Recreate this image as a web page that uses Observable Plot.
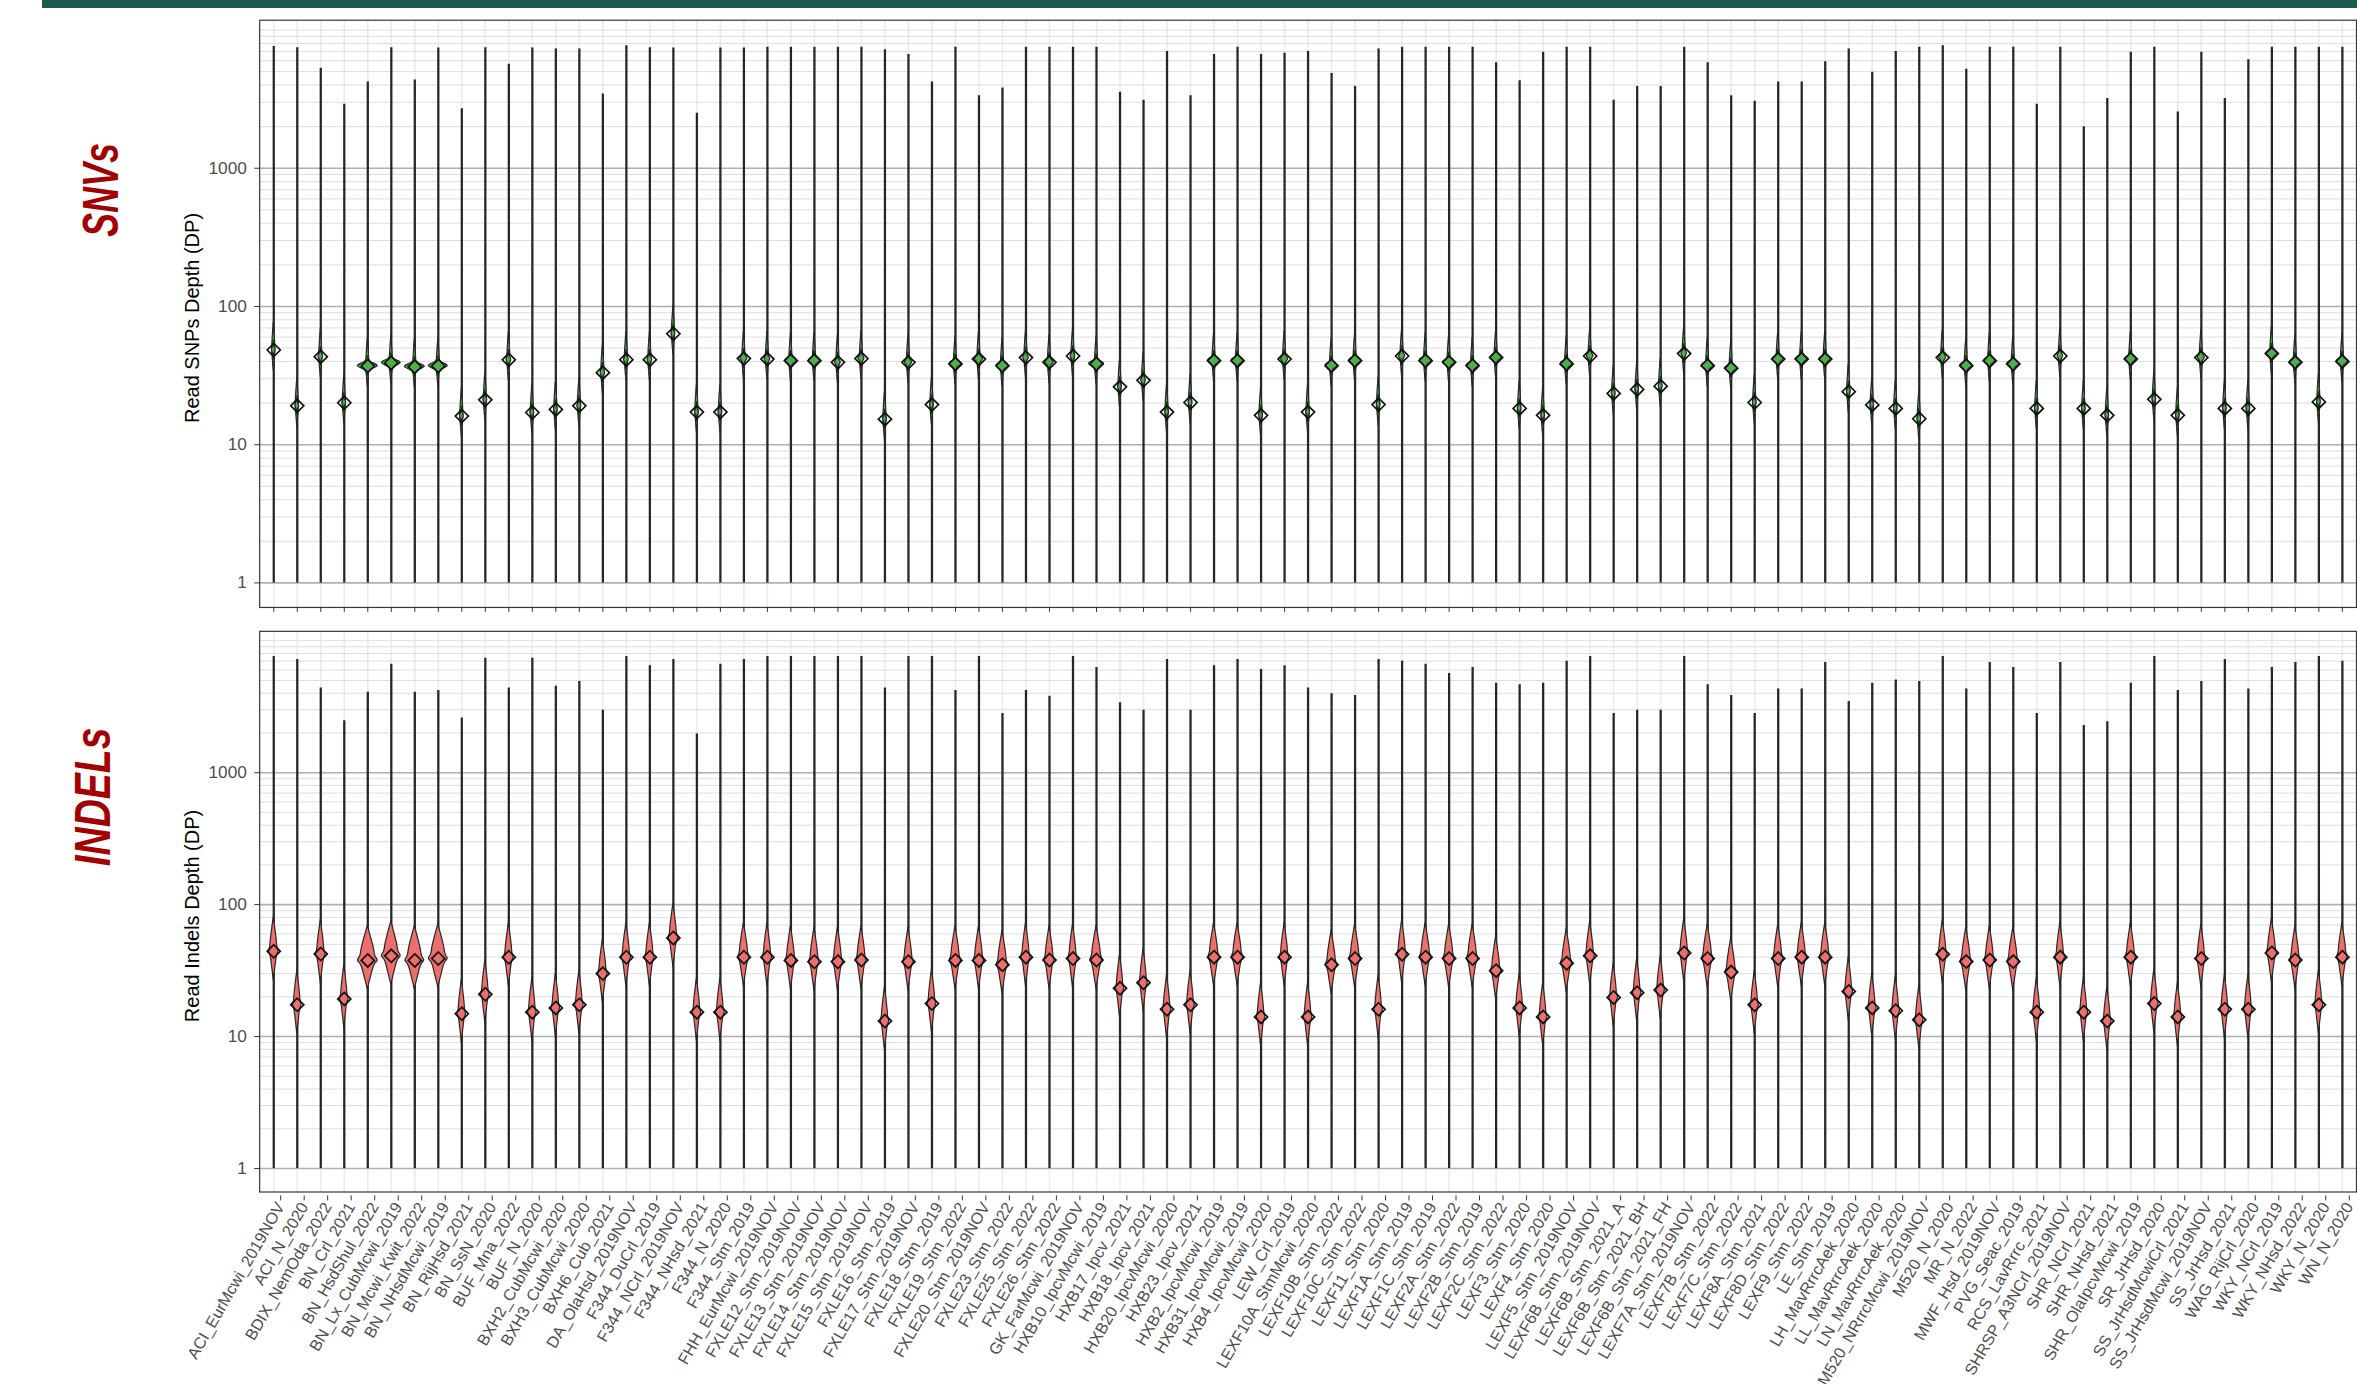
<!DOCTYPE html>
<html><head><meta charset="utf-8">
<script src="https://cdn.jsdelivr.net/npm/d3@7"></script>
<script src="https://cdn.jsdelivr.net/npm/@observablehq/plot@0.6"></script>
<style>
html,body{margin:0;padding:0;background:#fff;overflow:hidden;width:2357px;height:1384px;}
#root{position:relative;width:2357px;height:1384px;overflow:hidden;}
.bar{position:absolute;left:42px;top:0;width:2315px;height:8px;background:#1f5a4f;}
.svgwrap{position:absolute;left:0;}
.side{position:absolute;font-family:"Liberation Sans",Arial,sans-serif;font-weight:bold;font-style:italic;color:#a30000;font-size:50px;line-height:1;white-space:nowrap;}
.ytitle{position:absolute;font-family:"Liberation Sans",Arial,sans-serif;font-size:20px;line-height:1;color:#000;white-space:nowrap;}
</style></head>
<body><div id="root"><div class="bar"></div></div>
<script>
const strains = [
"ACI_EurMcwi_2019NOV","ACI_N_2020","BDIX_NemOda_2022","BN_Crl_2021","BN_HsdShul_2022","BN_Lx_CubMcwi_2019","BN_Mcwi_Kwit_2022","BN_NHsdMcwi_2019","BN_RijHsd_2021","BN_SsN_2020",
"BUF_Mna_2022","BUF_N_2020","BXH2_CubMcwi_2020","BXH3_CubMcwi_2020","BXH6_Cub_2021","DA_OlaHsd_2019NOV","F344_DuCrl_2019","F344_NCrl_2019NOV","F344_NHsd_2021","F344_N_2020",
"F344_Stm_2019","FHH_EurMcwi_2019NOV","FXLE12_Stm_2019NOV","FXLE13_Stm_2019NOV","FXLE14_Stm_2019NOV","FXLE15_Stm_2019NOV","FXLE16_Stm_2019","FXLE17_Stm_2019NOV","FXLE18_Stm_2019","FXLE19_Stm_2022",
"FXLE20_Stm_2019NOV","FXLE23_Stm_2022","FXLE25_Stm_2022","FXLE26_Stm_2022","GK_FarMcwi_2019NOV","HXB10_IpcvMcwi_2019","HXB17_Ipcv_2021","HXB18_Ipcv_2021","HXB20_IpcvMcwi_2020","HXB23_Ipcv_2021",
"HXB2_IpcvMcwi_2019","HXB31_IpcvMcwi_2019","HXB4_IpcvMcwi_2020","LEW_Crl_2019","LEXF10A_StmMcwi_2020","LEXF10B_Stm_2022","LEXF10C_Stm_2022","LEXF11_Stm_2020","LEXF1A_Stm_2019","LEXF1C_Stm_2019",
"LEXF2A_Stm_2022","LEXF2B_Stm_2019","LEXF2C_Stm_2022","LEXF3_Stm_2020","LEXF4_Stm_2020","LEXF5_Stm_2019NOV","LEXF6B_Stm_2019NOV","LEXF6B_Stm_2021_A","LEXF6B_Stm_2021_BH","LEXF6B_Stm_2021_FH",
"LEXF7A_Stm_2019NOV","LEXF7B_Stm_2022","LEXF7C_Stm_2022","LEXF8A_Stm_2021","LEXF8D_Stm_2022","LEXF9_Stm_2022","LE_Stm_2019","LH_MavRrrcAek_2020","LL_MavRrrcAek_2020","LN_MavRrrcAek_2020",
"M520_NRrrcMcwi_2019NOV","M520_N_2020","MR_N_2022","MWF_Hsd_2019NOV","PVG_Seac_2019","RCS_LavRrrc_2021","SHRSP_A3NCrl_2019NOV","SHR_NCrl_2021","SHR_NHsd_2021","SHR_OlaIpcvMcwi_2019",
"SR_JrHsd_2020","SS_JrHsdMcwiCrl_2021","SS_JrHsdMcwi_2019NOV","SS_JrHsd_2021","WAG_RijCrl_2020","WKY_NCrl_2019","WKY_NHsd_2022","WKY_N_2020","WN_N_2020"
];

const snvMax = [7600,7450,5300,2900,4200,7450,4350,7400,2700,7450,
5650,7400,7300,7300,3450,7700,7450,7400,2500,7400,
7400,7500,7500,7500,7500,7500,7200,6650,4200,7500,
3350,3800,7500,7500,7500,7500,3550,3100,7000,3350,
6650,7500,6650,6800,7000,4850,3900,7300,7500,7500,
7500,7500,5800,4300,6900,7500,7500,3100,3900,3900,
7500,5800,3350,3050,4200,4200,5900,7300,4950,7000,
7500,7700,5200,7500,7500,2900,7500,2000,3200,6900,
7500,2550,6900,3200,6100,7500,7500,7500,7500];

const snvMedian = [48.4,19.1,43.3,20.1,37.1,39.0,36.6,37.1,16.1,21.1,
41.1,17.1,18.0,19.1,33.2,41.2,41.2,63.5,17.2,17.2,
42.0,41.6,40.5,40.5,39.4,42.0,15.3,39.4,19.5,38.4,
41.6,37.2,42.7,39.4,43.8,38.4,26.2,29.2,17.2,20.2,
40.5,40.5,16.3,41.6,17.2,37.3,40.5,19.5,43.8,40.5,
39.4,37.3,42.7,18.3,16.3,38.4,43.8,23.5,25.1,26.5,
45.6,37.3,35.7,20.2,41.6,41.6,41.6,24.2,19.4,18.3,
15.4,42.7,37.3,40.5,38.4,18.3,43.8,18.3,16.3,41.6,
21.3,16.3,42.7,18.3,18.3,45.6,39.4,20.4,40];

// peak half-width of the density at the median (fraction of a category step)
const snvWidth = [.08,.08,.1,.08,.42,.4,.42,.4,.08,.08,
.1,.08,.08,.08,.1,.1,.1,.08,.08,.08,
.15,.12,.24,.24,.12,.13,.08,.15,.08,.26,
.18,.26,.12,.18,.1,.32,.08,.1,.08,.08,
.26,.26,.08,.15,.08,.26,.26,.08,.13,.26,
.26,.26,.24,.08,.08,.26,.14,.08,.08,.08,
.12,.26,.26,.08,.24,.24,.24,.08,.08,.08,
.08,.15,.26,.24,.26,.08,.12,.08,.08,.24,
.08,.08,.15,.08,.08,.24,.24,.08,.24];

const indelMax = [7580,7200,4390,2480,4070,6640,4070,4200,2600,7370,
4390,7370,4520,4900,2970,7580,6450,7200,1960,6640,
7200,7580,7580,7580,7580,7580,4390,7580,7580,4200,
7580,2810,4200,3790,7580,6260,3390,2970,7200,2970,
6450,7200,6050,6450,4390,3960,3840,7200,7000,6640,
5650,6260,4760,4630,4760,7000,7580,2810,2970,2970,
7580,4630,3840,2810,4300,4300,6850,3460,4760,5050,
4900,7580,4300,6850,6260,2810,6850,2280,2430,4760,
7580,4200,4900,7200,4300,6260,6850,7580,7000];

const indelMedian = [44.3,17.4,42.2,19.3,37.8,40.9,37.8,39,14.9,20.9,
39.9,15.3,16.5,17.4,30,39.9,39.9,55.9,15.3,15.3,
39.9,39.9,37.8,36.9,36.9,38,13.1,36.9,17.8,37.8,
37.8,35,40,38,39,38,23.2,25.6,16.1,17.4,
40,40,14.1,40,14.1,35,39,16.1,42,40,
39,39,31.6,16.5,14.1,36,41,19.8,21.5,22.5,
43,39,30.8,17.4,39,40,40,22,16.5,15.7,
13.4,42,37,38,37,15.3,40,15.3,13.1,40,
17.8,14.1,39,16.1,16.1,43,38,17.4,40];

const indelWidth = [.2,.18,.2,.18,.42,.4,.4,.4,.18,.18,
.2,.18,.18,.18,.2,.2,.2,.2,.18,.18,
.24,.2,.22,.22,.22,.22,.18,.22,.18,.24,
.22,.24,.2,.22,.2,.26,.18,.18,.18,.18,
.24,.24,.18,.2,.18,.24,.24,.18,.2,.24,
.24,.24,.22,.18,.18,.24,.2,.18,.18,.18,
.2,.24,.24,.18,.22,.22,.22,.18,.18,.18,
.18,.2,.24,.22,.24,.18,.2,.18,.18,.22,
.18,.18,.2,.18,.18,.22,.22,.18,.22];

// violin outline profiles: [offset in decades from the median, fraction of half-width]
const snvBodyShape = [[-0.15,0],[-0.05,0.7],[0,1],[0.08,0.7],[0.2,0]];
const snvBodyWidth = 0.07;
const snvFlareShape = [[-0.07,0],[-0.03,0.3],[0,1],[0.03,0.3],[0.07,0]];
const indelShape = [[-0.22,0],[-0.11,0.38],[-0.03,0.72],[0,1],[0.03,0.78],[0.09,0.62],[0.16,0.38],[0.26,0]];

const majorY = [1,10,100,1000];
const minorY = [2,3,4,5,6,7,8,9,20,30,40,50,60,70,80,90,200,300,400,500,600,700,800,900,2000,3000,4000,5000,6000,7000,8000,9000,10000];

const idx = strains.map((_, i) => i);

function violinPoints(med, widthOf, shape) {
  return med.flatMap((m, i) => shape.map(([o, f]) => ({i, y: m * Math.pow(10, o), w: widthOf(i) * f})));
}

function makePanel({max, med, layers, color, height, marginTop, marginBottom, labels}) {
  const areas = layers.map(pts => Plot.areaX(pts, {y: "y", x1: d => d.i - d.w, x2: d => d.i + d.w, z: "i", fill: color, stroke: "#262626", strokeWidth: 1.2, curve: "monotone-y"}));
  return Plot.plot({
    width: 2392, height, marginLeft: 263, marginRight: 1, marginTop, marginBottom,
    style: {fontFamily: "'Liberation Sans', Arial, sans-serif", color: "#4d4d4d", background: "transparent", overflow: "visible"},
    x: {type: "linear", domain: [-0.6, 88.6], axis: null},
    y: {type: "log", domain: [0.664, 11780], axis: null},
    marks: [
      Plot.ruleX(idx, {x: d => d, stroke: "#ebebeb", strokeWidth: 1.6}),
      Plot.ruleY(minorY, {stroke: "#dcdcdc", strokeWidth: 1}),
      Plot.ruleY(majorY, {stroke: "#b0b0b0", strokeWidth: 1.6}),
      Plot.ruleX(idx, {x: d => d, y1: 1, y2: d => max[d], stroke: "#262626", strokeWidth: 2.3}),
      ...areas,
      Plot.dot(idx, {x: d => d, y: d => med[d], symbol: "diamond2", r: 6, stroke: "#111", strokeWidth: 1.7, fill: "none"}),
      Plot.frame({stroke: "#333", strokeWidth: 1.2}),
      Plot.axisY({ticks: majorY, tickFormat: d => String(d), tickSize: 5, tickPadding: 8, fontSize: 17.5, label: null, stroke: "#333"}),
      labels
        ? Plot.axisX({ticks: idx, tickFormat: d => strains[d], tickSize: 5, tickPadding: 3, tickRotate: -60, fontSize: 16.4, dx: 7, dy: 4, label: null, stroke: "#333"})
        : Plot.axisX({ticks: idx, tickFormat: () => "", tickSize: 5, label: null, stroke: "#333"})
    ]
  });
}

const root = document.getElementById("root");

const snv = makePanel({
  max: snvMax, med: snvMedian, color: "#4daf4a", height: 626, marginTop: 20, marginBottom: 10, labels: false,
  layers: [violinPoints(snvMedian, () => snvBodyWidth, snvBodyShape), violinPoints(snvMedian, i => snvWidth[i], snvFlareShape)]
});
const w1 = document.createElement("div"); w1.className = "svgwrap"; w1.style.top = "0px"; w1.appendChild(snv); root.appendChild(w1);

const indel = makePanel({
  max: indelMax, med: indelMedian, color: "#eb6f6b", height: 764, marginTop: 11, marginBottom: 184, labels: true,
  layers: [violinPoints(indelMedian, i => indelWidth[i], indelShape)]
});
const w2 = document.createElement("div"); w2.className = "svgwrap"; w2.style.top = "620px"; w2.appendChild(indel); root.appendChild(w2);

function addText(cls, text, cx, cy, sx) {
  const el = document.createElement("div");
  el.className = cls;
  el.textContent = text;
  el.style.left = cx + "px";
  el.style.top = cy + "px";
  el.style.transform = "translate(-50%,-50%) rotate(-90deg)" + (sx ? " scaleX(" + sx + ")" : "");
  root.appendChild(el);
}
addText("side", "SNVs", 101, 190, 0.72);
addText("side", "INDELs", 93, 797, 0.78);
addText("ytitle", "Read SNPs Depth (DP)", 192, 318);
addText("ytitle", "Read Indels Depth (DP)", 192, 916);
</script></body></html>
